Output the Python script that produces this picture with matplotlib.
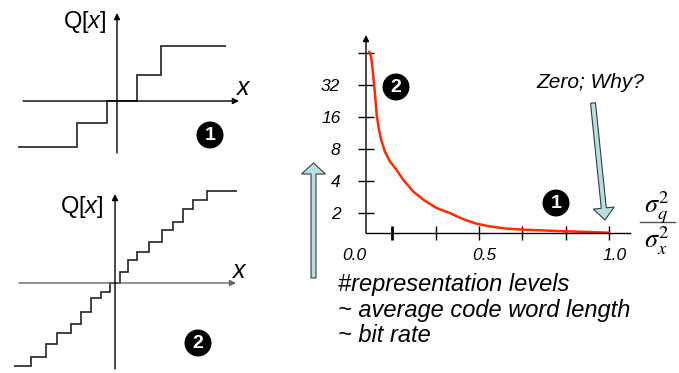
#quantizer sketch: two staircase quantizers and #levels vs noise ratio
import numpy as np
import matplotlib.pyplot as plt
from matplotlib.patches import FancyArrow
from matplotlib.ticker import NullLocator
import matplotlib.transforms as mtransforms

plt.rcParams['font.family'] = ['Liberation Sans', 'DejaVu Sans']
plt.rcParams['mathtext.fontset'] = 'stix'
plt.rcParams['mathtext.rm'] = 'Liberation Sans'
plt.rcParams['mathtext.it'] = 'Liberation Sans:italic'

# coarse quantizer (1): decision edges and output levels
q1_edges = [-9.9, -4.0, -1.0, 2.0, 4.4, 10.9]
q1_levels = [-4.6, -2.2, 0.0, 2.6, 5.5]

# fine quantizer (2)
q2_edges = [-10.1, -8.4, -6.9, -5.8, -4.4, -3.4, -2.4, -1.4, -0.5, 0.5,
            1.3, 2.2, 3.4, 4.7, 5.8, 6.8, 7.8, 9.2, 12.2]
q2_levels = [-8.3, -7.4, -6.1, -5.0, -4.1, -2.9, -1.5, -0.9, 0.0, 1.1,
             2.3, 3.1, 4.1, 5.3, 6.1, 7.4, 8.3, 9.2]

# number of levels vs sigma_q^2 / sigma_x^2
ratio = [0.078, 0.085, 0.091, 0.096, 0.101, 0.106, 0.113, 0.122, 0.138, 0.158,
         0.183, 0.209, 0.247, 0.286, 0.337, 0.388, 0.440, 0.491, 0.542, 0.607,
         0.670, 0.799, 0.927, 1.0]
levels = [65.8, 59, 44.3, 33.2, 24.8, 17.2, 13.0, 10.1, 7.55, 6.07,
          5.07, 4.09, 3.18, 2.66, 2.22, 1.99, 1.74, 1.58, 1.49, 1.42,
          1.39, 1.35, 1.32, 1.30]
ytick_vals = [2, 4, 8, 16, 32, 64]
ytick_labels = ['2', '4', '8', '16', '32', '']
xtick_vals = [1/6, 2/6, 3/6, 4/6, 5/6, 1.0]
xlabel_vals = [0.0, 0.5, 1.0]

W, H = 679, 373
fig = plt.figure(figsize=(W/100, H/100), dpi=100)


def px_axes(x0, y0, x1, y1):
    # axes from pixel box (top-left origin)
    return fig.add_axes([x0/W, 1 - y1/H, (x1-x0)/W, (y1-y0)/H])


def arrow(ax, tail, tip, color='k'):
    ax.annotate('', xy=tip, xytext=tail,
                arrowprops=dict(arrowstyle='-|>', lw=1.0, color=color,
                                mutation_scale=9, shrinkA=0, shrinkB=0))


# --- quantizer 1 ---
ax1 = px_axes(12, 5, 247, 160)
ax1.set_xlim(-10.5, 13.0)
ax1.set_ylim(-5.9, 9.6)
ax1.axis('off')
arrow(ax1, (-9.4, 0), (12.2, 0))
arrow(ax1, (0, -5.2), (0, 8.8))
ax1.stairs(q1_levels, q1_edges, baseline=None, color='#222222', lw=1.2)
ax1.text(-3.2, 7.9, 'Q[$x$]', fontsize=17, ha='center', va='center',
         math_fontfamily='custom')
ax1.text(12.6, 1.3, 'x', fontsize=18, style='italic', ha='center', va='center')

# --- quantizer 2 ---
ax2 = px_axes(10, 185, 247, 373)
ax2.set_xlim(-10.5, 13.2)
ax2.set_ylim(-9.0, 9.8)
ax2.axis('off')
arrow(ax2, (-9.6, 0), (12.1, 0), color='#666666')
arrow(ax2, (0, -8.6), (0, 8.9))
ax2.stairs(q2_levels, q2_edges, baseline=None, color='#222222', lw=1.2)
ax2.text(-3.3, 7.6, 'Q[$x$]', fontsize=17, ha='center', va='center',
         math_fontfamily='custom')
ax2.text(12.4, 1.2, 'x', fontsize=18, style='italic', ha='center', va='center')

# --- levels vs ratio ---
ax = px_axes(366, 35, 630, 233)
ax.set_yscale('log', base=2)
ax.set_xlim(0.0654, 1.081)
ax.set_ylim(2**0.37, 2**6.5625)
ax.plot(ratio, levels, color='#ff2a00', lw=1.8, solid_capstyle='round')
for s in ['top', 'right', 'left']:
    ax.spines[s].set_visible(False)
ax.spines['bottom'].set_linewidth(1.0)
ax.annotate('', xy=(0, 1), xytext=(0, 0), xycoords='axes fraction',
            arrowprops=dict(arrowstyle='-|>', lw=1.0, color='k',
                            mutation_scale=9, shrinkA=0, shrinkB=0))
ax.set_yticks(ytick_vals, labels=ytick_labels)
ax.yaxis.set_minor_locator(NullLocator())
ax.tick_params(axis='y', direction='inout', length=11, width=1.0, pad=13,
               labelsize=12.5)
for lab in ax.get_yticklabels():
    lab.set_style('italic')
ax.set_xticks(xtick_vals, labels=['']*len(xtick_vals))
ax.xaxis.set_minor_locator(NullLocator())
ax.tick_params(axis='x', direction='inout', length=10, width=1.0)
ax.xaxis.get_major_ticks()[0].tick1line.set_markeredgewidth(2.0)
trans = mtransforms.blended_transform_factory(ax.transData, ax.transAxes)
for v in xlabel_vals:
    ax.text(v + 0.02, -0.115, f'{v:.1f}', transform=trans, fontsize=12.5,
            style='italic', ha='center', va='center', clip_on=False)
ax.patch.set_alpha(0)

# --- overlay for notes and arrows (pixel coords) ---
ov = fig.add_axes([0, 0, 1, 1])
ov.set_xlim(0, W)
ov.set_ylim(H, 0)
ov.axis('off')
ov.patch.set_alpha(0)


def bullet(x, y, s):
    ov.text(x, y, s, color='white', fontsize=14, fontweight='bold',
            ha='center', va='center',
            bbox=dict(boxstyle='circle,pad=0.22', fc='black', ec='black'))


bullet(210, 135, '1')
bullet(198, 343, '2')
bullet(396, 87, '2')
bullet(556, 203, '1')

ov.text(590, 83, 'Zero; Why?', fontsize=15, style='italic', ha='center', va='center')
ov.add_patch(FancyArrow(313.5, 278, 0, -115, width=5, head_width=24, head_length=11,
                        length_includes_head=True, fc='#b7dfe3', ec='#3a3a3a', lw=0.8))
ov.add_patch(FancyArrow(593, 103, 12, 117, width=5, head_width=21, head_length=12,
                        length_includes_head=True, fc='#b7dfe3', ec='#3a3a3a', lw=0.8))

ov.text(657, 208, r'$\sigma_q^2$', fontsize=19, ha='center', va='center')
ov.plot([640, 675], [222, 222], color='#555555', lw=1.0)
ov.text(657, 241, r'$\sigma_x^2$', fontsize=19, ha='center', va='center')

notes = ['#representation levels', '~ average code word length', '~ bit rate']
for i, line in enumerate(notes):
    ov.text(338, 284 + 26*i, line, fontsize=17, style='italic', ha='left', va='center')

fig.savefig('out.png', dpi=100)
